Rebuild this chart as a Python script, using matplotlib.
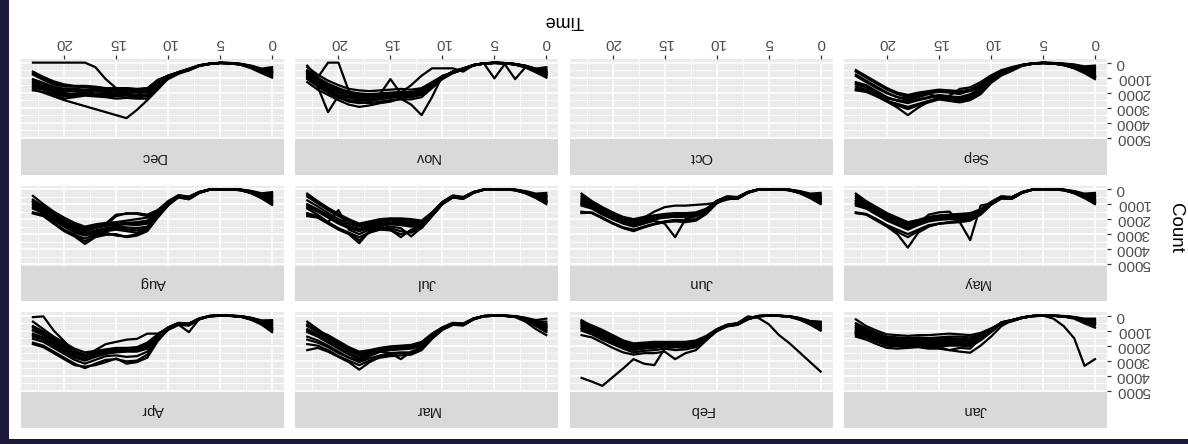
import matplotlib
matplotlib.use("Agg")
import matplotlib.pyplot as plt
from matplotlib.patches import Rectangle

plt.rcParams["font.family"] = ["Liberation Sans", "DejaVu Sans"]

# hourly counts, one list per day, grouped by month
hours = list(range(24))
month_names = ["Jan", "Feb", "Mar", "Apr", "May", "Jun",
               "Jul", "Aug", "Sep", "Oct", "Nov", "Dec"]

jan_counts = [
    [600, 400, 150, 60, 10, 10, 30, 150, 350, 500, 850, 1150, 1300, 1250, 1200, 1250, 1300, 1300, 1350, 1300, 1250, 1000, 700, 250],
    [500, 350, 130, 50, 10, 0, 30, 140, 330, 480, 900, 1250, 1450, 1400, 1400, 1450, 1500, 1450, 1500, 1450, 1400, 1150, 850, 500],
    [400, 300, 120, 40, 10, 0, 20, 130, 320, 470, 950, 1350, 1600, 1550, 1550, 1600, 1650, 1600, 1650, 1600, 1550, 1300, 1000, 750],
    [300, 250, 100, 30, 0, 0, 20, 120, 300, 450, 1000, 1450, 1750, 1700, 1700, 1750, 1800, 1750, 1800, 1750, 1700, 1450, 1150, 950],
    [200, 200, 90, 30, 0, 0, 20, 110, 290, 440, 1050, 1550, 1900, 1850, 1850, 1900, 1950, 1900, 1950, 1900, 1850, 1600, 1300, 1150],
    [650, 420, 160, 60, 10, 10, 30, 150, 360, 520, 1100, 1650, 2050, 2000, 2000, 2050, 2100, 2050, 2100, 2050, 2000, 1750, 1450, 1300],
    [550, 380, 140, 50, 10, 0, 30, 140, 340, 500, 1000, 1500, 2200, 2150, 2300, 2200, 2200, 2100, 2150, 2200, 2150, 1900, 1600, 1400],
    [450, 330, 120, 40, 10, 0, 20, 130, 320, 700, 1400, 2000, 2470, 2400, 2300, 2100, 2000, 2000, 2050, 2000, 1900, 1650, 1350, 1100],
    [350, 280, 110, 40, 10, 0, 20, 130, 310, 460, 980, 1400, 1680, 1650, 1620, 1680, 1720, 1680, 1720, 1680, 1620, 1380, 1080, 850],
    [480, 340, 130, 50, 10, 0, 30, 140, 330, 490, 1020, 1480, 1820, 1780, 1800, 1820, 1880, 1820, 1870, 1820, 1780, 1520, 1220, 1050],
    [800, 520, 200, 70, 20, 10, 30, 160, 380, 540, 1080, 1600, 1980, 1950, 1950, 2000, 2020, 1980, 2020, 1980, 1930, 1680, 1380, 1200],
    [2900, 3350, 1500, 700, 200, 0, 30, 150, 350, 520, 900, 1300, 1600, 1550, 1500, 1550, 1600, 1550, 1600, 1550, 1450, 1200, 950, 650],
]
feb_counts = [
    [1000, 600, 280, 80, 20, 10, 40, 250, 600, 700, 1000, 1500, 1900, 2000, 1950, 1950, 2000, 2050, 2100, 1900, 1600, 1300, 1000, 700],
    [800, 500, 240, 60, 10, 10, 30, 230, 560, 650, 950, 1450, 1800, 1900, 1850, 1850, 1900, 1950, 2000, 1800, 1500, 1150, 850, 500],
    [600, 430, 200, 50, 10, 0, 30, 210, 530, 620, 920, 1400, 1700, 1800, 1800, 1800, 1800, 1850, 1900, 1700, 1400, 1050, 700, 300],
    [400, 360, 160, 40, 10, 0, 20, 200, 500, 600, 900, 1350, 1650, 1750, 1750, 1750, 1750, 1800, 1850, 1650, 1300, 950, 650, 400],
    [900, 560, 250, 70, 20, 10, 40, 240, 620, 720, 1050, 1600, 2100, 2250, 2300, 2200, 2300, 2350, 2450, 2200, 1900, 1600, 1250, 1000],
    [700, 480, 220, 60, 10, 10, 30, 220, 580, 680, 1000, 1650, 2300, 2500, 2900, 2400, 2500, 2500, 2600, 2450, 2150, 1800, 1450, 1300],
    [500, 400, 180, 50, 10, 0, 30, 200, 550, 640, 980, 1550, 2000, 2150, 2100, 2050, 2150, 2200, 2300, 2100, 1800, 1450, 1150, 850],
    [850, 530, 230, 65, 15, 10, 35, 230, 590, 690, 1020, 1550, 2000, 2100, 2050, 2050, 2100, 2150, 2200, 2000, 1700, 1400, 1100, 850],
    [650, 460, 210, 55, 10, 0, 30, 215, 560, 660, 980, 1500, 1850, 1950, 1950, 1950, 2000, 2050, 2100, 1900, 1600, 1250, 950, 600],
    [450, 380, 170, 45, 10, 0, 25, 205, 540, 630, 940, 1450, 1750, 1850, 1850, 1850, 1900, 1950, 2000, 1800, 1450, 1100, 800, 450],
    [3730, 3100, 2470, 1840, 1300, 570, 150, 50, 500, 650, 950, 1500, 1900, 2100, 2100, 2200, 3300, 3200, 2900, 3520, 4100, 4680, 4400, 4150],
]
mar_counts = [
    [1300, 900, 400, 100, 20, 10, 40, 250, 650, 600, 900, 1400, 2000, 2200, 2250, 2300, 2400, 2600, 2900, 2600, 2200, 1800, 1400, 1100],
    [1000, 650, 280, 70, 10, 10, 30, 230, 620, 560, 850, 1350, 1900, 2100, 2150, 2200, 2300, 2500, 2800, 2500, 2100, 1700, 1250, 900],
    [700, 480, 220, 50, 10, 0, 30, 210, 580, 530, 820, 1300, 1850, 2050, 2100, 2150, 2250, 2400, 2650, 2350, 1950, 1550, 1100, 700],
    [400, 380, 170, 40, 10, 0, 20, 200, 550, 500, 800, 1250, 1800, 2000, 2050, 2100, 2200, 2350, 2500, 2200, 1800, 1400, 900, 400],
    [200, 300, 140, 30, 0, 0, 20, 180, 520, 480, 780, 1200, 1750, 1950, 2000, 2050, 2150, 2300, 2400, 2100, 1700, 1300, 1000, 600],
    [900, 560, 250, 70, 20, 10, 40, 240, 640, 620, 950, 1550, 2300, 2600, 2650, 2700, 2800, 3000, 3300, 3000, 2700, 2300, 2000, 1900],
    [600, 450, 200, 60, 10, 10, 30, 220, 600, 600, 920, 1500, 2200, 2500, 2500, 2600, 2750, 3100, 3600, 3100, 2750, 2400, 2150, 2300],
    [800, 520, 230, 50, 10, 0, 30, 210, 580, 540, 880, 1450, 2100, 2400, 2900, 2500, 2400, 2700, 3000, 2800, 2500, 2100, 1800, 1600],
    [1100, 700, 300, 80, 15, 10, 35, 240, 630, 580, 880, 1380, 1950, 2150, 2200, 2250, 2350, 2550, 2850, 2550, 2150, 1750, 1350, 1000],
    [550, 420, 190, 45, 10, 0, 25, 205, 560, 510, 810, 1280, 1830, 2030, 2080, 2130, 2230, 2380, 2600, 2300, 1900, 1500, 1050, 600],
    [750, 500, 230, 60, 10, 10, 35, 225, 610, 580, 900, 1480, 2150, 2450, 2450, 2500, 2650, 2850, 3100, 2800, 2400, 2000, 1650, 1400],
]
apr_counts = [
    [1100, 600, 280, 80, 20, 10, 40, 250, 650, 600, 900, 1500, 2200, 2400, 2400, 2450, 2550, 2750, 3000, 2800, 2400, 2000, 1600, 1400],
    [900, 520, 240, 60, 10, 10, 30, 230, 620, 560, 850, 1400, 2100, 2300, 2300, 2350, 2450, 2650, 2900, 2650, 2250, 1850, 1450, 1200],
    [700, 450, 200, 50, 10, 0, 30, 210, 580, 530, 820, 1350, 2000, 2200, 2250, 2250, 2350, 2550, 2750, 2500, 2100, 1700, 1250, 950],
    [500, 380, 170, 40, 10, 0, 20, 200, 550, 500, 800, 1300, 1900, 2150, 2200, 2200, 2300, 2450, 2600, 2350, 1950, 1550, 1050, 700],
    [300, 320, 140, 30, 0, 0, 20, 180, 520, 480, 780, 1250, 1800, 2100, 2150, 2150, 2250, 2350, 2450, 2200, 1800, 1400, 900, 400],
    [1000, 560, 250, 70, 20, 10, 40, 240, 640, 620, 950, 1600, 2600, 3000, 3050, 2900, 2950, 3200, 3500, 3200, 2800, 2400, 2000, 1800],
    [800, 480, 220, 60, 10, 10, 30, 220, 1100, 600, 920, 1700, 2800, 3100, 3200, 2850, 3100, 3300, 3400, 3300, 2900, 2500, 2100, 1900],
    [600, 420, 190, 50, 10, 0, 30, 210, 580, 540, 850, 1200, 1200, 1550, 1600, 1750, 1900, 2300, 2700, 2500, 2100, 1700, 1300, 1000],
    [950, 540, 240, 65, 15, 10, 35, 235, 630, 580, 880, 1450, 2150, 2350, 2350, 2400, 2500, 2700, 2950, 2700, 2300, 1900, 1500, 1300],
    [600, 400, 180, 45, 10, 0, 25, 205, 560, 510, 810, 1320, 1950, 2180, 2220, 2220, 2320, 2500, 2680, 2420, 2000, 1600, 1150, 800],
    [850, 500, 230, 65, 15, 10, 35, 230, 630, 600, 930, 1550, 2400, 2700, 2750, 2650, 2700, 2950, 3200, 2950, 2550, 2150, 1750, 1550],
    [400, 350, 160, 40, 10, 0, 20, 200, 560, 520, 830, 1300, 1950, 2250, 2300, 2300, 2400, 2550, 2750, 2450, 1700, 1000, 50, 100],
]
may_counts = [
    [1000, 600, 280, 80, 20, 10, 40, 250, 650, 600, 1000, 1600, 1900, 2000, 2000, 2050, 2150, 2400, 2700, 2400, 2100, 1700, 1300, 1100],
    [800, 500, 240, 60, 10, 10, 30, 230, 620, 560, 950, 1500, 1800, 1900, 1900, 1950, 2050, 2300, 2600, 2300, 2000, 1600, 1200, 950],
    [600, 430, 200, 50, 10, 0, 30, 210, 580, 530, 900, 1450, 1700, 1800, 1800, 1850, 1950, 2200, 2450, 2150, 1850, 1450, 1050, 750],
    [400, 360, 160, 40, 10, 0, 20, 200, 550, 500, 880, 1400, 1650, 1700, 1750, 1800, 1900, 2100, 2300, 2000, 1700, 1300, 900, 450],
    [250, 300, 130, 30, 0, 0, 20, 180, 520, 480, 850, 1350, 1600, 1650, 1700, 1750, 1850, 2050, 2200, 1900, 1600, 1200, 800, 300],
    [900, 560, 250, 70, 20, 10, 40, 240, 640, 620, 1050, 1700, 2100, 2200, 2250, 2300, 2400, 2700, 3000, 2700, 2400, 2000, 1650, 1550],
    [700, 480, 220, 60, 10, 10, 30, 220, 600, 600, 1000, 1650, 2000, 2100, 2200, 2300, 2500, 2900, 3900, 3000, 2500, 2100, 1700, 1600],
    [850, 540, 240, 65, 15, 10, 35, 235, 630, 580, 980, 1550, 1850, 1950, 1950, 2000, 2100, 2350, 2650, 2350, 2050, 1650, 1250, 1000],
    [500, 380, 170, 45, 10, 0, 25, 205, 560, 510, 890, 1420, 1680, 1750, 1780, 1830, 1930, 2150, 2380, 2080, 1780, 1380, 980, 600],
    [750, 500, 230, 65, 15, 10, 35, 230, 620, 610, 1020, 1680, 2050, 2150, 2220, 2300, 2450, 2800, 3200, 2850, 2450, 2050, 1680, 1580],
    [500, 400, 180, 50, 10, 0, 30, 200, 570, 550, 950, 1100, 3400, 2200, 1500, 1550, 1700, 2300, 2600, 2300, 2000, 1600, 1200, 850],
]
jun_counts = [
    [1000, 600, 280, 80, 20, 10, 40, 250, 650, 600, 900, 1500, 1800, 1850, 1850, 1900, 2000, 2200, 2400, 2250, 2000, 1700, 1300, 1100],
    [800, 500, 240, 60, 10, 10, 30, 230, 620, 560, 850, 1450, 1750, 1750, 1800, 1850, 1950, 2100, 2300, 2150, 1900, 1550, 1150, 900],
    [600, 430, 200, 50, 10, 0, 30, 210, 580, 530, 820, 1400, 1650, 1700, 1700, 1750, 1850, 2000, 2200, 2050, 1750, 1400, 1000, 700],
    [400, 360, 160, 40, 10, 0, 20, 200, 550, 500, 800, 1350, 1600, 1650, 1650, 1700, 1800, 1950, 2100, 1950, 1650, 1300, 900, 450],
    [250, 300, 130, 30, 0, 0, 20, 180, 520, 480, 780, 1300, 1550, 1600, 1600, 1650, 1750, 1850, 2000, 1850, 1550, 1200, 800, 300],
    [900, 560, 250, 70, 20, 10, 40, 240, 640, 620, 950, 1650, 2100, 2200, 2150, 2200, 2350, 2550, 2800, 2600, 2300, 1950, 1600, 1500],
    [700, 480, 220, 60, 10, 10, 30, 220, 600, 600, 920, 1600, 2000, 2050, 2050, 2150, 2300, 2500, 2700, 2550, 2250, 1900, 1550, 1600],
    [850, 540, 240, 65, 15, 10, 35, 235, 630, 580, 880, 1480, 1780, 1800, 1820, 1880, 1980, 2150, 2350, 2200, 1950, 1620, 1220, 1000],
    [500, 380, 170, 45, 10, 0, 25, 205, 560, 510, 810, 1380, 1620, 1680, 1680, 1720, 1820, 1980, 2150, 2000, 1700, 1350, 950, 580],
    [800, 520, 240, 65, 15, 10, 35, 230, 620, 610, 940, 1620, 2050, 2120, 2100, 2180, 2320, 2520, 2750, 2580, 2280, 1920, 1580, 1550],
    [500, 400, 180, 50, 10, 0, 30, 200, 570, 700, 900, 1000, 1050, 1100, 1100, 1200, 1500, 1900, 2150, 2000, 1800, 1500, 1100, 800],
    [600, 420, 190, 50, 10, 0, 30, 210, 580, 540, 850, 1450, 1800, 2000, 3200, 2300, 2100, 2300, 2500, 2300, 2000, 1650, 1250, 950],
]
jul_counts = [
    [1000, 600, 280, 80, 20, 10, 40, 250, 650, 560, 1000, 1800, 2500, 2500, 2400, 2350, 2450, 2600, 2800, 2600, 2300, 1900, 1500, 1200],
    [800, 500, 240, 60, 10, 10, 30, 230, 620, 520, 950, 1700, 2400, 2300, 2250, 2250, 2300, 2450, 2650, 2450, 2150, 1750, 1350, 1000],
    [600, 430, 200, 50, 10, 0, 30, 210, 580, 480, 900, 1650, 2300, 2200, 2150, 2100, 2200, 2350, 2500, 2300, 2000, 1600, 1150, 750],
    [400, 360, 160, 40, 10, 0, 20, 200, 550, 450, 880, 1600, 2200, 2100, 2050, 2000, 2100, 2250, 2400, 2150, 1800, 1400, 950, 500],
    [250, 300, 130, 30, 0, 0, 20, 180, 520, 420, 850, 1550, 2100, 2000, 1950, 1950, 2000, 2150, 2300, 2000, 1650, 1250, 800, 300],
    [900, 560, 250, 70, 20, 10, 40, 240, 640, 540, 1000, 1800, 2600, 2800, 3000, 2750, 2700, 2900, 3200, 2900, 2600, 2200, 1800, 1600],
    [700, 480, 220, 60, 10, 10, 30, 220, 600, 500, 950, 1750, 2550, 3150, 2600, 2500, 2600, 2800, 3600, 3000, 2700, 2300, 1900, 1800],
    [850, 540, 240, 65, 15, 10, 35, 235, 630, 540, 980, 1750, 2450, 2400, 2320, 2300, 2380, 2520, 2720, 2520, 2220, 1820, 1420, 1100],
    [500, 380, 170, 45, 10, 0, 25, 205, 560, 460, 870, 1580, 2150, 2050, 2000, 1980, 2050, 2200, 2350, 2080, 1720, 1320, 880, 400],
    [800, 520, 240, 65, 15, 10, 35, 230, 620, 520, 980, 1780, 2580, 2900, 2800, 2620, 2650, 2850, 3400, 2950, 2650, 2250, 1850, 1700],
    [500, 400, 180, 50, 10, 0, 30, 200, 570, 470, 920, 1700, 2450, 2700, 3200, 2700, 2500, 2700, 3000, 2700, 1400, 2200, 1700, 1300],
]
aug_counts = [
    [1050, 620, 280, 80, 20, 10, 40, 260, 680, 560, 1050, 1850, 2700, 2900, 2800, 2700, 2800, 2900, 3100, 2900, 2500, 2100, 1600, 1300],
    [800, 500, 230, 60, 10, 10, 30, 230, 620, 500, 950, 1700, 2500, 2600, 2550, 2500, 2600, 2750, 2950, 2700, 2350, 1950, 1450, 1100],
    [600, 420, 190, 50, 10, 0, 30, 210, 580, 470, 900, 1600, 2300, 2400, 2350, 2400, 2450, 2600, 2800, 2550, 2200, 1800, 1300, 900],
    [400, 350, 150, 40, 10, 0, 20, 200, 550, 440, 850, 1500, 2100, 2200, 2250, 2300, 2350, 2450, 2650, 2400, 2050, 1650, 1150, 700],
    [200, 280, 120, 30, 0, 0, 20, 180, 500, 400, 800, 1400, 1900, 2000, 2100, 2200, 2250, 2350, 2500, 2250, 1900, 1500, 1000, 450],
    [900, 560, 250, 70, 20, 10, 40, 240, 650, 530, 1000, 1750, 2600, 3000, 3150, 3100, 2900, 3000, 3300, 3050, 2700, 2250, 1700, 1550],
    [700, 460, 210, 60, 10, 10, 30, 220, 600, 480, 1100, 1900, 2800, 3100, 3200, 3000, 3050, 3200, 3650, 3150, 2800, 2300, 1800, 1620],
    [950, 560, 250, 70, 15, 10, 35, 245, 650, 530, 1000, 1780, 2600, 2750, 2680, 2600, 2700, 2820, 3020, 2800, 2420, 2020, 1520, 1200],
    [500, 380, 170, 45, 10, 0, 25, 205, 560, 450, 870, 1550, 2200, 2300, 2300, 2350, 2400, 2520, 2720, 2480, 2120, 1720, 1220, 800],
    [800, 500, 230, 65, 15, 10, 35, 230, 620, 500, 1050, 1820, 2700, 3050, 3180, 3050, 2980, 3100, 3480, 3100, 2750, 2280, 1750, 1580],
    [500, 380, 170, 50, 10, 0, 30, 200, 560, 460, 900, 1400, 1700, 1600, 1650, 1700, 2300, 2400, 2600, 2400, 2100, 1700, 1200, 800],
    [300, 320, 140, 40, 0, 0, 20, 190, 520, 420, 900, 1500, 1800, 1650, 1600, 1800, 2400, 2550, 2800, 2600, 2300, 1900, 1400, 1000],
]
sep_counts = [
    [1100, 700, 380, 180, 60, 30, 80, 200, 450, 700, 1100, 1600, 1900, 2000, 1950, 1900, 2000, 2100, 2300, 2100, 1800, 1400, 1000, 600],
    [900, 600, 300, 150, 50, 20, 60, 180, 400, 650, 1000, 1500, 1800, 1900, 1850, 1800, 1900, 2000, 2150, 2000, 1700, 1300, 900, 500],
    [700, 500, 250, 120, 40, 20, 50, 150, 350, 600, 950, 1450, 1850, 2100, 2000, 1950, 2050, 2200, 2400, 2300, 2050, 1700, 1300, 900],
    [500, 400, 200, 100, 40, 10, 60, 170, 420, 750, 1200, 1800, 2200, 2400, 2300, 2200, 2350, 2500, 2700, 2550, 2300, 1900, 1500, 1300],
    [300, 300, 150, 80, 30, 10, 50, 160, 380, 700, 1100, 1700, 2100, 2300, 2250, 2150, 2300, 2450, 2600, 2500, 2400, 2100, 1800, 1600],
    [800, 550, 280, 130, 50, 20, 70, 190, 500, 820, 1300, 2000, 2400, 2600, 2500, 2400, 2550, 2750, 2950, 2750, 2550, 2200, 1850, 1750],
    [1000, 650, 350, 160, 60, 30, 80, 210, 550, 850, 1350, 2100, 2500, 2650, 2550, 2450, 2650, 2850, 3100, 2850, 2600, 2250, 1950, 1850],
    [950, 620, 320, 160, 55, 25, 70, 190, 420, 680, 1050, 1550, 1850, 1950, 1900, 1850, 1950, 2050, 2230, 2050, 1750, 1350, 950, 550],
    [400, 350, 180, 90, 35, 10, 55, 165, 400, 720, 1150, 1750, 2150, 2350, 2280, 2180, 2320, 2480, 2650, 2520, 2350, 2000, 1650, 1450],
    [900, 600, 320, 150, 55, 25, 75, 200, 520, 840, 1320, 2050, 2450, 2620, 2520, 2420, 2600, 2800, 3020, 2800, 2580, 2220, 1900, 1800],
    [200, 250, 120, 60, 20, 10, 40, 140, 300, 500, 850, 1300, 1650, 1750, 2200, 2300, 2100, 2300, 2500, 2300, 2000, 1600, 1200, 800],
    [600, 450, 250, 110, 40, 20, 60, 180, 450, 780, 1250, 1900, 2300, 2500, 2400, 2300, 2600, 3000, 3500, 3000, 2600, 2100, 1600, 1400],
]
oct_counts = []
nov_counts = [
    [900, 600, 300, 130, 40, 20, 60, 180, 450, 650, 900, 1300, 1700, 1800, 1750, 1800, 1850, 1900, 1850, 1750, 1500, 1200, 800, 300],
    [700, 500, 250, 110, 40, 20, 50, 170, 420, 620, 950, 1400, 1850, 1950, 1950, 2000, 2050, 2100, 2050, 1950, 1700, 1400, 1000, 500],
    [500, 450, 220, 100, 30, 10, 50, 160, 400, 600, 1000, 1500, 2000, 2100, 2150, 2200, 2250, 2300, 2250, 2150, 1900, 1600, 1200, 700],
    [300, 400, 200, 90, 30, 10, 40, 150, 380, 580, 1050, 1600, 2150, 2300, 2300, 2350, 2450, 2500, 2450, 2350, 2150, 1800, 1400, 900],
    [1000, 650, 330, 140, 50, 20, 60, 190, 470, 700, 1100, 1700, 2300, 2450, 2450, 2500, 2600, 2700, 2650, 2550, 2350, 2000, 1600, 1100],
    [800, 550, 280, 120, 40, 20, 60, 180, 440, 680, 1000, 1550, 2050, 2200, 2400, 2600, 2700, 2850, 2950, 2800, 2500, 2150, 1800, 1300],
    [600, 480, 240, 100, 30, 10, 50, 170, 410, 640, 900, 1350, 1800, 2000, 2150, 2250, 2350, 2450, 2550, 2500, 2300, 1900, 1500, 1000],
    [850, 580, 290, 125, 45, 20, 60, 185, 455, 670, 1020, 1500, 1950, 2050, 2100, 2150, 2250, 2350, 2300, 2200, 1950, 1650, 1250, 800],
    [650, 480, 240, 100, 35, 15, 50, 165, 410, 610, 980, 1450, 1900, 2000, 2050, 2100, 2150, 2200, 2150, 2050, 1800, 1500, 1100, 600],
    [400, 420, 210, 95, 30, 10, 45, 155, 390, 590, 1020, 1550, 2080, 2200, 2250, 2300, 2400, 2600, 2700, 2600, 2300, 1900, 1500, 1000],
    [800, 550, 300, 1100, 100, 1050, 60, 180, 430, 650, 950, 1450, 1900, 2000, 2050, 1100, 2100, 2200, 2150, 2050, 1800, 1450, 1100, 600],
    [600, 450, 230, 100, 30, 10, 50, 160, 600, 380, 380, 380, 870, 1500, 2000, 2100, 2200, 2300, 2250, 2100, 1900, 1500, 1100, 600],
    [700, 500, 250, 110, 40, 20, 60, 170, 420, 700, 870, 2300, 3500, 2800, 2400, 2200, 2300, 2400, 2350, 2200, 2000, 1700, 1300, 800],
    [800, 550, 280, 120, 40, 20, 60, 180, 440, 650, 1000, 1500, 2000, 2100, 2100, 2150, 2200, 2300, 2200, 1900, 0, 0, 1000, 200],
    [600, 450, 230, 100, 30, 10, 50, 160, 400, 620, 950, 1450, 1950, 2050, 2100, 2200, 2300, 2400, 2400, 2300, 2200, 3300, 1600, 700],
]
dec_counts = [
    [1000, 700, 380, 150, 50, 30, 100, 220, 520, 700, 900, 1200, 1700, 1750, 1700, 1700, 1700, 1600, 1550, 1550, 1450, 1250, 950, 600],
    [800, 600, 300, 120, 40, 20, 90, 200, 480, 680, 880, 1150, 1750, 1800, 1750, 1800, 1750, 1700, 1650, 1600, 1600, 1450, 1150, 800],
    [600, 500, 250, 100, 40, 20, 80, 190, 450, 650, 850, 1250, 1850, 1900, 1850, 1800, 1850, 1800, 1800, 1750, 1750, 1600, 1350, 1100],
    [400, 450, 230, 90, 30, 10, 70, 180, 420, 640, 900, 1350, 1950, 2000, 1950, 1950, 1900, 1900, 1900, 1900, 1900, 1750, 1500, 1300],
    [300, 400, 200, 80, 20, 10, 60, 170, 400, 620, 950, 1450, 2100, 2150, 2050, 2100, 2050, 2050, 2000, 2050, 2100, 1900, 1650, 1500],
    [700, 550, 280, 110, 40, 20, 80, 200, 460, 700, 1000, 1550, 2250, 2300, 2200, 2250, 2200, 2150, 2150, 2200, 2250, 2050, 1800, 1650],
    [900, 650, 330, 130, 50, 20, 90, 210, 500, 750, 1100, 1650, 2400, 2400, 2350, 2400, 2300, 2250, 2200, 2300, 2400, 2150, 1950, 1850],
    [500, 480, 260, 100, 30, 20, 70, 190, 440, 660, 920, 1300, 1800, 2200, 2100, 1900, 2000, 2100, 1900, 1800, 2000, 1800, 1600, 1400],
    [850, 620, 320, 125, 45, 20, 90, 205, 490, 690, 890, 1180, 1720, 1780, 1720, 1750, 1720, 1650, 1600, 1580, 1520, 1350, 1050, 700],
    [550, 480, 240, 95, 35, 15, 75, 185, 430, 645, 880, 1300, 1900, 1950, 1900, 1880, 1880, 1850, 1850, 1820, 1820, 1680, 1420, 1200],
    [650, 520, 260, 105, 40, 20, 80, 195, 450, 680, 980, 1500, 2180, 2220, 2130, 2180, 2130, 2100, 2080, 2120, 2180, 1980, 1720, 1580],
    [700, 550, 280, 120, 40, 20, 80, 200, 460, 680, 900, 1300, 1900, 1950, 1900, 1700, 1100, 300, 0, 0, 0, 0, 0, 0],
    [600, 500, 260, 110, 40, 20, 80, 190, 450, 650, 1050, 1800, 2500, 3150, 3700, 3500, 3300, 3100, 2900, 2700, 2500, 2250, 2000, 1750],
]

counts_by_month = [jan_counts, feb_counts, mar_counts, apr_counts, may_counts, jun_counts,
                   jul_counts, aug_counts, sep_counts, oct_counts, nov_counts, dec_counts]

W, H = 1188, 444
PANEL_W, PANEL_H, STRIP_H = 263, 80, 35.5
COL_STEP, ROW_STEP = 274.3, 126.5
LEFT0, TOP0 = 21, 59

NAVY = "#1b1a3a"
PANEL_BG = "#EBEBEB"
STRIP_BG = "#D9D9D9"


def fig_box(left, top, width, height):
    # pixel box (origin top-left) -> figure fraction rect
    return [left / W, 1 - (top + height) / H, width / W, height / H]


fig = plt.figure(figsize=(W / 100, H / 100), dpi=100)
fig.patch.set_facecolor("white")

for i, (name, days) in enumerate(zip(month_names, counts_by_month)):
    orow, ocol = divmod(i, 4)
    # the whole facet grid is shown turned half a turn
    drow, dcol = 2 - orow, 3 - ocol
    left = LEFT0 + COL_STEP * dcol
    top = TOP0 + ROW_STEP * drow

    ax = fig.add_axes(fig_box(left, top, PANEL_W, PANEL_H))
    ax.set_facecolor(PANEL_BG)
    for day in days:
        ax.plot(hours, day, color="black", lw=1.6, solid_joinstyle="round")

    ax.set_xlim(24.15, -1.15)
    ax.set_ylim(5090, -242)
    ax.set_xticks([0, 5, 10, 15, 20])
    ax.set_xticks([2.5, 7.5, 12.5, 17.5, 22.5], minor=True)
    ax.set_yticks([0, 1000, 2000, 3000, 4000, 5000])
    ax.set_yticks([500, 1500, 2500, 3500, 4500], minor=True)
    ax.grid(which="major", color="white", lw=1.2)
    ax.grid(which="minor", color="white", lw=0.6)
    ax.set_axisbelow(True)
    for sp in ax.spines.values():
        sp.set_visible(False)

    ax.tick_params(which="minor", length=0)
    ax.tick_params(axis="both", which="major", bottom=False, top=False, left=False, right=False,
                   labelbottom=False, labeltop=False, labelleft=False, labelright=False)
    if drow == 0:
        ax.tick_params(axis="x", which="major", top=True, labeltop=True, length=3, width=0.9,
                       color="#333333", labelcolor="#4D4D4D", labelsize=11, pad=3.5,
                       labelrotation=180)
    if dcol == 3:
        ax.tick_params(axis="y", which="major", right=True, labelright=True, length=3, width=0.9,
                       color="#333333", labelcolor="#4D4D4D", labelsize=11, pad=3.5,
                       labelrotation=180)
        for lab in ax.get_yticklabels():
            lab.set_verticalalignment("center")

    # facet strip below the panel
    fig.add_artist(Rectangle((left / W, 1 - (top + PANEL_H + STRIP_H) / H), PANEL_W / W, STRIP_H / H,
                             transform=fig.transFigure, facecolor=STRIP_BG, edgecolor="none"))
    fig.text((left + PANEL_W / 2) / W, 1 - (top + PANEL_H + STRIP_H / 2) / H, name,
             rotation=180, ha="center", va="center", fontsize=10.5, color="#1A1A1A")

fig.text(564 / W, 1 - 20 / H, "Time", rotation=180, ha="center", va="center", fontsize=13)
fig.text(1176 / W, 1 - 228 / H, "Count", rotation=-90, ha="center", va="center", fontsize=13.5)

# dark frame edges
fig.add_artist(Rectangle((0, 0), 9 / W, 1, transform=fig.transFigure, facecolor=NAVY, edgecolor="none"))
fig.add_artist(Rectangle((0, 0), 1, 5 / H, transform=fig.transFigure, facecolor=NAVY, edgecolor="none"))

fig.savefig("out.png", dpi=100)
